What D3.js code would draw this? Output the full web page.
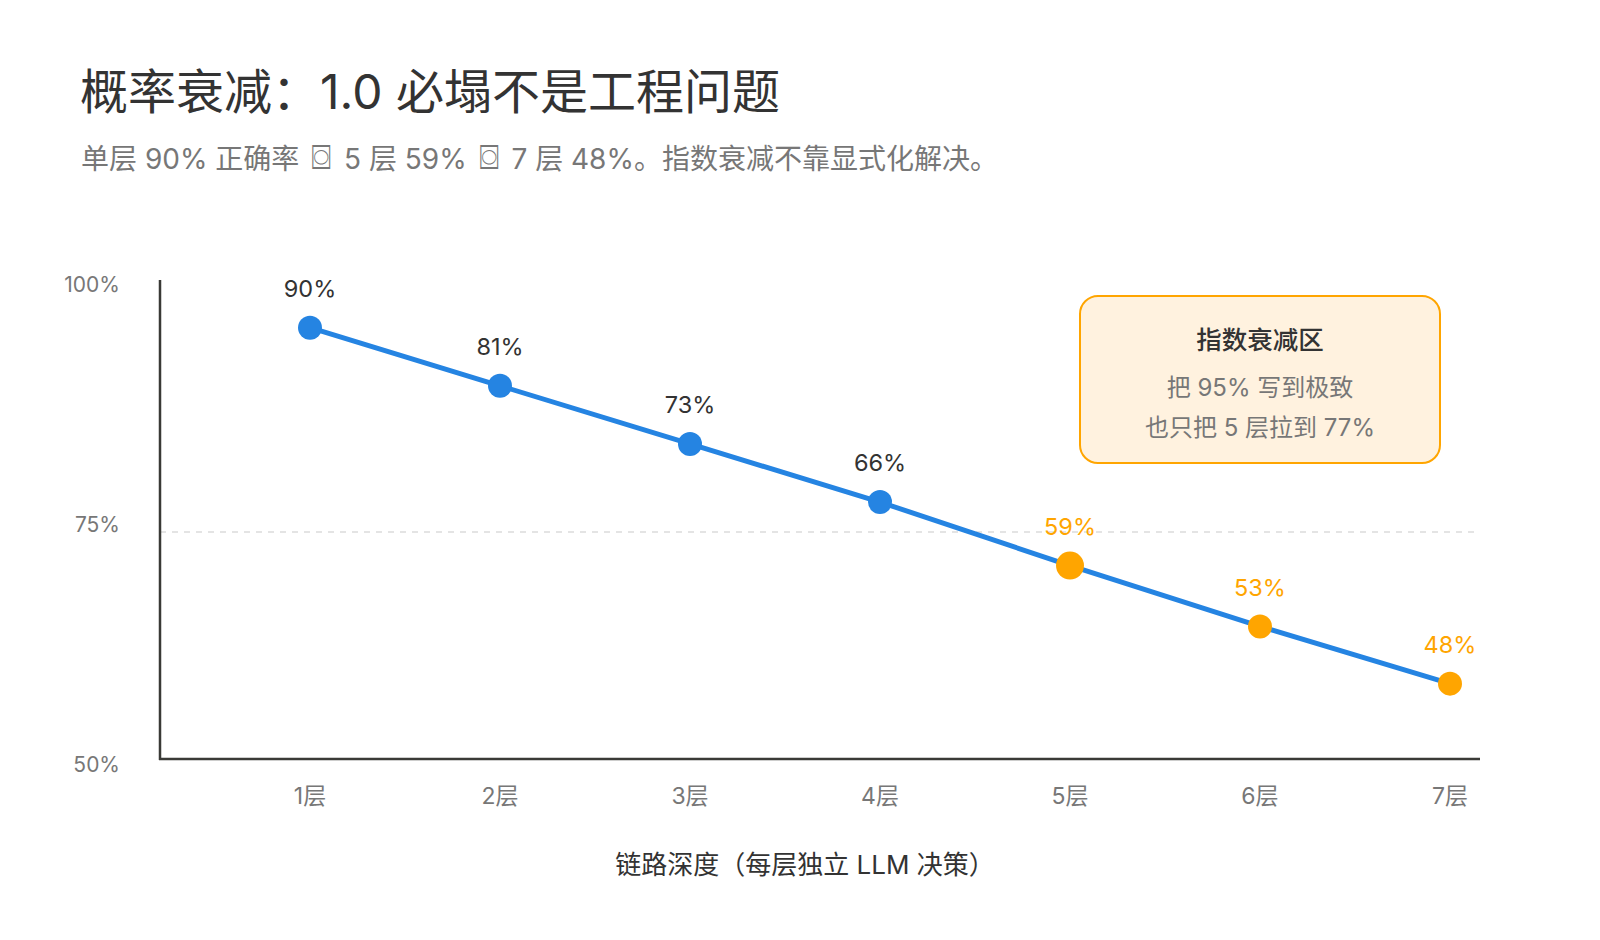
<!DOCTYPE html>
<html>
<head>
<meta charset="utf-8">
<script src="https://cdn.jsdelivr.net/npm/d3@7"></script>
<style>
  body { margin: 0; background: #fff; }
  svg { font-family: "Inter", "Noto Sans CJK SC", sans-serif; }
</style>
</head>
<body>
<div id="root"></div>
<script>
// chart data
var layers = ["1层", "2层", "3层", "4层", "5层", "6层", "7层"];
var plotted = [97.5, 91.1, 84.7, 78.3, 71.3, 64.6, 58.3];   // where each dot sits on the y scale
var valueLabels = ["90%", "81%", "73%", "66%", "59%", "53%", "48%"];
var yTicks = [50, 75, 100];
var yTickLabels = ["50%", "75%", "100%"];
var gridAt = [75];

var title = "概率衰减：1.0 必塌不是工程问题";
// subtitle pieces, the box glyph sits between them
var subtitleParts = ["单层 90% 正确率 ", " 5 层 59% ", " 7 层 48%。指数衰减不靠显式化解决。"];
var boxGlyph = "⌼";
var xTitle = "链路深度（每层独立 LLM 决策）";
var noteTitle = "指数衰减区";
var noteLines = ["把 95% 写到极致", "也只把 5 层拉到 77%"];

var width = 1600, height = 940;
var blue = "#2584e2", orange = "#ffa500";

var svg = d3.select("#root").append("svg")
  .attr("width", width).attr("height", height);

// title + subtitle
svg.append("text")
  .attr("x", 80).attr("y", 109)
  .attr("font-size", 48).attr("font-weight", 400)
  .attr("fill", "#333")
  .text(title);

var sub = svg.append("text")
  .attr("x", 81).attr("y", 169)
  .attr("font-size", 28)
  .attr("fill", "#777");
subtitleParts.forEach(function(p, i) {
  sub.append("tspan").attr("dx", i > 0 ? 5 : 0).text(p);
  if (i < subtitleParts.length - 1) {
    sub.append("tspan")
      .attr("dx", 4)
      .attr("font-family", "DejaVu Sans")
      .attr("font-size", 34)
      .text(boxGlyph);
  }
});

// scales
var x = d3.scalePoint().domain(layers).range([310, 1450]);
var y = d3.scaleLinear().domain([50, 100]).range([759, 305]);
// tick labels sit on their own spacing
var yLab = d3.scaleLinear().domain([50, 100]).range([765, 285]);

// grid line
svg.selectAll(".grid")
  .data(gridAt)
  .enter().append("line")
  .attr("x1", 160).attr("x2", 1480)
  .attr("y1", d => y(d)).attr("y2", d => y(d))
  .attr("stroke", "#dcdcdc").attr("stroke-width", 1.5)
  .attr("stroke-dasharray", "6,6");

// axes
svg.append("line")
  .attr("x1", 160).attr("x2", 160)
  .attr("y1", 280).attr("y2", y(50) + 1)
  .attr("stroke", "#3a3a36").attr("stroke-width", 2.5);

svg.append("line")
  .attr("x1", 159).attr("x2", 1480)
  .attr("y1", y(50)).attr("y2", y(50))
  .attr("stroke", "#3a3a36").attr("stroke-width", 2.5);

svg.selectAll(".ytick")
  .data(yTicks)
  .enter().append("text")
  .attr("x", 120)
  .attr("y", d => yLab(d))
  .attr("dy", "0.35em")
  .attr("text-anchor", "end")
  .attr("font-size", 21)
  .attr("fill", "#777")
  .text((d, i) => yTickLabels[i]);

svg.selectAll(".xtick")
  .data(layers)
  .enter().append("text")
  .attr("x", d => x(d))
  .attr("y", 796)
  .attr("dy", "0.35em")
  .attr("text-anchor", "middle")
  .attr("font-size", 23)
  .attr("fill", "#777")
  .text(d => d);

svg.append("text")
  .attr("x", 805).attr("y", 865)
  .attr("dy", "0.35em")
  .attr("text-anchor", "middle")
  .attr("font-size", 26)
  .attr("fill", "#333")
  .text(xTitle);

// note box
var note = svg.append("g");
note.append("rect")
  .attr("x", 1080).attr("y", 296)
  .attr("width", 360).attr("height", 167)
  .attr("rx", 18)
  .attr("fill", "#fff2df")
  .attr("stroke", orange).attr("stroke-width", 2);
note.append("text")
  .attr("x", 1260).attr("y", 340).attr("dy", "0.35em")
  .attr("text-anchor", "middle")
  .attr("font-size", 25.5).attr("font-weight", 500)
  .attr("fill", "#333")
  .text(noteTitle);
note.selectAll(".nl")
  .data(noteLines)
  .enter().append("text")
  .attr("x", 1260)
  .attr("y", (d, i) => 388 + i * 40)
  .attr("dy", "0.35em")
  .attr("text-anchor", "middle")
  .attr("font-size", 24)
  .attr("fill", "#777")
  .text(d => d);

// line + dots
var line = d3.line()
  .x((d, i) => x(layers[i]))
  .y(d => y(d));

svg.append("path")
  .datum(plotted)
  .attr("d", line)
  .attr("fill", "none")
  .attr("stroke", blue)
  .attr("stroke-width", 5);

svg.selectAll(".dot")
  .data(plotted)
  .enter().append("circle")
  .attr("cx", (d, i) => x(layers[i]))
  .attr("cy", d => y(d))
  .attr("r", (d, i) => i == 4 ? 14 : 12)
  .attr("fill", (d, i) => i >= 4 ? orange : blue);

svg.selectAll(".val")
  .data(plotted)
  .enter().append("text")
  .attr("x", (d, i) => x(layers[i]))
  .attr("y", d => y(d) - 39)
  .attr("dy", "0.35em")
  .attr("text-anchor", "middle")
  .attr("font-size", 23.5)
  .attr("fill", (d, i) => i >= 4 ? orange : "#333")
  .text((d, i) => valueLabels[i]);
</script>
</body>
</html>
